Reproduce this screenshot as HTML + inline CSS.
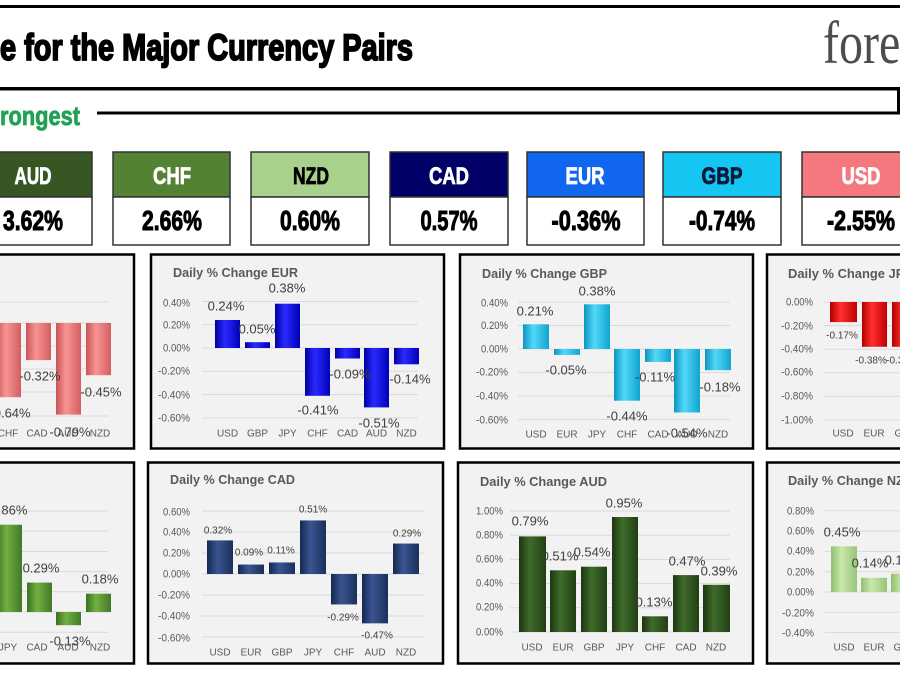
<!DOCTYPE html>
<html><head><meta charset="utf-8">
<style>
html,body{margin:0;padding:0;background:#fff;width:900px;height:676px;overflow:hidden}
svg{display:block}
.t{font-family:"Liberation Sans",sans-serif;font-weight:bold;font-size:13px;fill:#595959}
.y{font-family:"Liberation Sans",sans-serif;font-size:11px;fill:#595959;text-anchor:end}
.x{font-family:"Liberation Sans",sans-serif;font-size:10px;fill:#595959;text-anchor:middle}
.d{font-family:"Liberation Sans",sans-serif;font-size:13px;fill:#404040;text-anchor:middle}
.ds{font-family:"Liberation Sans",sans-serif;font-size:10px;fill:#404040;text-anchor:middle}
.g{stroke:#d9d9d9;stroke-width:1}
.p{fill:#f2f2f2;stroke:#000;stroke-width:2.5}
.bh{font-family:"Liberation Sans",sans-serif;font-weight:bold;font-size:24px;text-anchor:middle}
.bv{font-family:"Liberation Sans",sans-serif;font-weight:bold;font-size:28px;text-anchor:middle;fill:#000;stroke:#000;stroke-width:1}
</style></head>
<body>
<svg width="900" height="676" viewBox="0 0 900 676" xmlns="http://www.w3.org/2000/svg">
<defs>
<linearGradient id="gPink" x1="0" x2="1" y1="0" y2="0"><stop offset="0" stop-color="#c85456"/><stop offset="0.4" stop-color="#f99494"/><stop offset="1" stop-color="#d25e60"/></linearGradient>
<linearGradient id="gBlue" x1="0" x2="1" y1="0" y2="0"><stop offset="0" stop-color="#0000a0"/><stop offset="0.4" stop-color="#2a2aff"/><stop offset="1" stop-color="#0000b8"/></linearGradient>
<linearGradient id="gCyan" x1="0" x2="1" y1="0" y2="0"><stop offset="0" stop-color="#0c94c0"/><stop offset="0.4" stop-color="#52d8f8"/><stop offset="1" stop-color="#10a4d0"/></linearGradient>
<linearGradient id="gRed" x1="0" x2="1" y1="0" y2="0"><stop offset="0" stop-color="#b00000"/><stop offset="0.4" stop-color="#ff3030"/><stop offset="1" stop-color="#c00000"/></linearGradient>
<linearGradient id="gGreen" x1="0" x2="1" y1="0" y2="0"><stop offset="0" stop-color="#3a7020"/><stop offset="0.4" stop-color="#72b042"/><stop offset="1" stop-color="#42782a"/></linearGradient>
<linearGradient id="gNavy" x1="0" x2="1" y1="0" y2="0"><stop offset="0" stop-color="#142850"/><stop offset="0.4" stop-color="#3a5590"/><stop offset="1" stop-color="#1a2f5a"/></linearGradient>
<linearGradient id="gDark" x1="0" x2="1" y1="0" y2="0"><stop offset="0" stop-color="#1c3510"/><stop offset="0.4" stop-color="#3f6c2b"/><stop offset="1" stop-color="#223f14"/></linearGradient>
<linearGradient id="gLight" x1="0" x2="1" y1="0" y2="0"><stop offset="0" stop-color="#8fbf70"/><stop offset="0.4" stop-color="#c8e8aa"/><stop offset="1" stop-color="#98c47a"/></linearGradient>
</defs>

<!-- Header -->
<rect x="0" y="5" width="900" height="3" fill="#000"/>
<rect x="0" y="87" width="900" height="3.5" fill="#000"/>
<rect x="97" y="111.5" width="803" height="3" fill="#000"/>
<rect x="897" y="90" width="3" height="24" fill="#000"/>
<text x="0" y="60" font-family="Liberation Sans" font-weight="bold" font-size="37" textLength="413" lengthAdjust="spacingAndGlyphs" fill="#000" stroke="#000" stroke-width="1.8">e for the Major Currency Pairs</text>
<text transform="translate(823,63) scale(0.8,1)" font-family="Liberation Serif" font-size="60" fill="#4d4d4d">forexlive</text>
<text x="0" y="125" font-family="Liberation Sans" font-weight="bold" font-size="27" textLength="80" lengthAdjust="spacingAndGlyphs" fill="#21a153" stroke="#21a153" stroke-width="0.8">rongest</text>

<!-- Currency boxes -->
<g stroke="#333" stroke-width="1.5">
<rect x="-26" y="152" width="118" height="45" fill="#375623"/><rect x="-26" y="197" width="118" height="48" fill="#fff"/>
<rect x="113" y="152" width="117" height="45" fill="#548235"/><rect x="113" y="197" width="117" height="48" fill="#fff"/>
<rect x="251" y="152" width="118" height="45" fill="#a9d18e"/><rect x="251" y="197" width="118" height="48" fill="#fff"/>
<rect x="390" y="152" width="118" height="45" fill="#000066"/><rect x="390" y="197" width="118" height="48" fill="#fff"/>
<rect x="527" y="152" width="117" height="45" fill="#1166ee"/><rect x="527" y="197" width="117" height="48" fill="#fff"/>
<rect x="663" y="152" width="118" height="45" fill="#16c6f2"/><rect x="663" y="197" width="118" height="48" fill="#fff"/>
<rect x="802" y="152" width="118" height="45" fill="#f4787e"/><rect x="802" y="197" width="118" height="48" fill="#fff"/>
</g>
<text class="bh" x="33" y="184" textLength="37" lengthAdjust="spacingAndGlyphs" fill="#fff" stroke="#fff" stroke-width="0.8">AUD</text>
<text class="bh" x="172" y="184" textLength="38" lengthAdjust="spacingAndGlyphs" fill="#fff" stroke="#fff" stroke-width="0.8">CHF</text>
<text class="bh" x="311" y="184" textLength="36" lengthAdjust="spacingAndGlyphs" fill="#000" stroke="#000" stroke-width="0.8">NZD</text>
<text class="bh" x="449" y="184" textLength="40" lengthAdjust="spacingAndGlyphs" fill="#fff" stroke="#fff" stroke-width="0.8">CAD</text>
<text class="bh" x="585" y="184" textLength="39" lengthAdjust="spacingAndGlyphs" fill="#fff" stroke="#fff" stroke-width="0.8">EUR</text>
<text class="bh" x="722" y="184" textLength="41" lengthAdjust="spacingAndGlyphs" fill="#0a1a3a" stroke="#0a1a3a" stroke-width="0.8">GBP</text>
<text class="bh" x="861" y="184" textLength="39" lengthAdjust="spacingAndGlyphs" fill="#fff" stroke="#fff" stroke-width="0.8">USD</text>
<text class="bv" x="33" y="230" textLength="60" lengthAdjust="spacingAndGlyphs">3.62%</text>
<text class="bv" x="172" y="230" textLength="60" lengthAdjust="spacingAndGlyphs">2.66%</text>
<text class="bv" x="310" y="230" textLength="60" lengthAdjust="spacingAndGlyphs">0.60%</text>
<text class="bv" x="449" y="230" textLength="57" lengthAdjust="spacingAndGlyphs">0.57%</text>
<text class="bv" x="586" y="230" textLength="69" lengthAdjust="spacingAndGlyphs">-0.36%</text>
<text class="bv" x="722" y="230" textLength="66" lengthAdjust="spacingAndGlyphs">-0.74%</text>
<text class="bv" x="861" y="230" textLength="68" lengthAdjust="spacingAndGlyphs">-2.55%</text>

<!-- Panels -->
<rect class="p" x="-10" y="254.5" width="144" height="194"/>
<rect class="p" x="151" y="254.5" width="293" height="194"/>
<rect class="p" x="460" y="254.5" width="293" height="194"/>
<rect class="p" x="767" y="254.5" width="200" height="194"/>
<rect class="p" x="-10" y="462.5" width="144" height="201"/>
<rect class="p" x="148" y="462.5" width="295" height="201"/>
<rect class="p" x="458" y="462.5" width="295" height="201"/>
<rect class="p" x="767" y="462.5" width="200" height="201"/>

<!-- P1 USD -->
<g class="g">
<line x1="-8" x2="108" y1="302" y2="302"/><line x1="-8" x2="108" y1="323" y2="323"/><line x1="-8" x2="108" y1="346" y2="346"/><line x1="-8" x2="108" y1="369" y2="369"/><line x1="-8" x2="108" y1="392" y2="392"/><line x1="-8" x2="108" y1="416" y2="416"/>
</g>
<g fill="url(#gPink)">
<rect x="-4" y="323" width="25" height="74.2"/><rect x="26" y="323" width="25" height="37.1"/><rect x="56" y="323" width="25" height="91.6"/><rect x="86" y="323" width="25" height="52.2"/>
</g>
<text class="x" x="8" y="436.5">CHF</text><text class="x" x="37" y="436.5">CAD</text><text class="x" x="68" y="436.5">AUD</text><text class="x" x="100" y="436.5">NZD</text>
<text class="d" x="10" y="417.5">-0.64%</text><text class="d" x="40" y="380.5">-0.32%</text><text class="d" x="70" y="436.5">-0.79%</text><text class="d" x="101" y="396.5">-0.45%</text>

<!-- P2 EUR -->
<text class="t" x="173" y="277" textLength="125" lengthAdjust="spacingAndGlyphs">Daily % Change EUR</text>
<g class="g">
<line x1="202" x2="418" y1="301.5" y2="301.5"/><line x1="202" x2="418" y1="324.7" y2="324.7"/><line x1="202" x2="418" y1="348" y2="348"/><line x1="202" x2="418" y1="371.3" y2="371.3"/><line x1="202" x2="418" y1="394.6" y2="394.6"/><line x1="202" x2="418" y1="418" y2="418"/>
</g>
<text class="y" x="190" y="306.5" textLength="27" lengthAdjust="spacingAndGlyphs">0.40%</text>
<text class="y" x="190" y="328.5" textLength="27" lengthAdjust="spacingAndGlyphs">0.20%</text>
<text class="y" x="190" y="351.5" textLength="27" lengthAdjust="spacingAndGlyphs">0.00%</text>
<text class="y" x="190" y="374.5" textLength="32" lengthAdjust="spacingAndGlyphs">-0.20%</text>
<text class="y" x="190" y="398.5" textLength="32" lengthAdjust="spacingAndGlyphs">-0.40%</text>
<text class="y" x="190" y="421.5" textLength="32" lengthAdjust="spacingAndGlyphs">-0.60%</text>
<g fill="url(#gBlue)">
<rect x="215" y="320" width="25" height="28"/><rect x="245" y="342.2" width="25" height="5.8"/><rect x="275" y="303.7" width="25" height="44.3"/><rect x="305" y="348" width="25" height="47.8"/><rect x="335" y="348" width="25" height="10.5"/><rect x="364" y="348" width="25" height="59.4"/><rect x="394" y="348" width="25" height="16.3"/>
</g>
<text class="x" x="227.5" y="436.5">USD</text><text class="x" x="257.5" y="436.5">GBP</text><text class="x" x="287.5" y="436.5">JPY</text><text class="x" x="317.5" y="436.5">CHF</text><text class="x" x="347.5" y="436.5">CAD</text><text class="x" x="376.5" y="436.5">AUD</text><text class="x" x="406.5" y="436.5">NZD</text>
<text class="d" x="226" y="310.5">0.24%</text><text class="d" x="257" y="333.5">0.05%</text><text class="d" x="287" y="292.5">0.38%</text><text class="d" x="318" y="414.5">-0.41%</text><text class="d" x="350" y="378.5">-0.09%</text><text class="d" x="379" y="427.5">-0.51%</text><text class="d" x="410" y="383.5">-0.14%</text>

<!-- P3 GBP -->
<text class="t" x="482" y="278" textLength="125" lengthAdjust="spacingAndGlyphs">Daily % Change GBP</text>
<g class="g">
<line x1="518" x2="730" y1="302" y2="302"/><line x1="518" x2="730" y1="325.5" y2="325.5"/><line x1="518" x2="730" y1="349" y2="349"/><line x1="518" x2="730" y1="372.5" y2="372.5"/><line x1="518" x2="730" y1="396" y2="396"/><line x1="518" x2="730" y1="419.5" y2="419.5"/>
</g>
<text class="y" x="508" y="306.5" textLength="27" lengthAdjust="spacingAndGlyphs">0.40%</text>
<text class="y" x="508" y="329" textLength="27" lengthAdjust="spacingAndGlyphs">0.20%</text>
<text class="y" x="508" y="352.5" textLength="27" lengthAdjust="spacingAndGlyphs">0.00%</text>
<text class="y" x="508" y="375.5" textLength="32" lengthAdjust="spacingAndGlyphs">-0.20%</text>
<text class="y" x="508" y="399.5" textLength="32" lengthAdjust="spacingAndGlyphs">-0.40%</text>
<text class="y" x="508" y="423.5" textLength="32" lengthAdjust="spacingAndGlyphs">-0.60%</text>
<g fill="url(#gCyan)">
<rect x="523" y="324.3" width="26" height="24.7"/><rect x="554" y="349" width="26" height="5.9"/><rect x="584" y="304.3" width="26" height="44.7"/><rect x="614" y="349" width="26" height="51.7"/><rect x="645" y="349" width="26" height="12.9"/><rect x="674" y="349" width="26" height="63.5"/><rect x="705" y="349" width="26" height="21.2"/>
</g>
<text class="x" x="536" y="437.5">USD</text><text class="x" x="567" y="437.5">EUR</text><text class="x" x="597" y="437.5">JPY</text><text class="x" x="627" y="437.5">CHF</text><text class="x" x="658" y="437.5">CAD</text><text class="x" x="687" y="437.5">AUD</text><text class="x" x="718" y="437.5">NZD</text>
<text class="d" x="535" y="315.5">0.21%</text><text class="d" x="566" y="374.5">-0.05%</text><text class="d" x="597" y="295.5">0.38%</text><text class="d" x="627" y="420.5">-0.44%</text><text class="d" x="655" y="381.5">-0.11%</text><text class="d" x="687" y="437.5">-0.54%</text><text class="d" x="720" y="391.5">-0.18%</text>

<!-- P4 JPY -->
<text class="t" x="788" y="278" textLength="125" lengthAdjust="spacingAndGlyphs">Daily % Change JPY</text>
<g class="g">
<line x1="823" x2="900" y1="302" y2="302"/><line x1="823" x2="900" y1="325.6" y2="325.6"/><line x1="823" x2="900" y1="349.2" y2="349.2"/><line x1="823" x2="900" y1="372.8" y2="372.8"/><line x1="823" x2="900" y1="396.4" y2="396.4"/><line x1="823" x2="900" y1="420" y2="420"/>
</g>
<text class="y" x="813" y="305.5" textLength="27" lengthAdjust="spacingAndGlyphs">0.00%</text>
<text class="y" x="813" y="329.5" textLength="32" lengthAdjust="spacingAndGlyphs">-0.20%</text>
<text class="y" x="813" y="352.5" textLength="32" lengthAdjust="spacingAndGlyphs">-0.40%</text>
<text class="y" x="813" y="375.5" textLength="32" lengthAdjust="spacingAndGlyphs">-0.60%</text>
<text class="y" x="813" y="399.5" textLength="32" lengthAdjust="spacingAndGlyphs">-0.80%</text>
<text class="y" x="813" y="423.5" textLength="32" lengthAdjust="spacingAndGlyphs">-1.00%</text>
<g fill="url(#gRed)">
<rect x="830" y="302" width="27" height="20.1"/><rect x="862" y="302" width="25" height="44.8"/><rect x="892" y="302" width="26" height="44.8"/>
</g>
<text class="x" x="843" y="436.5">USD</text><text class="x" x="874" y="436.5">EUR</text><text class="x" x="905" y="436.5">GBP</text>
<text class="ds" x="842" y="338.5">-0.17%</text><text class="ds" x="871" y="363.5">-0.38%</text><text class="ds" x="902" y="363.5">-0.38%</text>

<!-- P5 CHF -->
<g class="g">
<line x1="-8" x2="108" y1="511" y2="511"/><line x1="-8" x2="108" y1="531" y2="531"/><line x1="-8" x2="108" y1="551.5" y2="551.5"/><line x1="-8" x2="108" y1="571.6" y2="571.6"/><line x1="-8" x2="108" y1="591.8" y2="591.8"/><line x1="-8" x2="108" y1="612" y2="612"/><line x1="-8" x2="108" y1="632.3" y2="632.3"/>
</g>
<g fill="url(#gGreen)">
<rect x="-4" y="524.7" width="26" height="87.3"/><rect x="27" y="582.6" width="25" height="29.4"/><rect x="56" y="612" width="25" height="13.2"/><rect x="86" y="593.7" width="25" height="18.3"/>
</g>
<text class="x" x="8" y="650.5">JPY</text><text class="x" x="37" y="650.5">CAD</text><text class="x" x="68" y="650.5">AUD</text><text class="x" x="100" y="650.5">NZD</text>
<text class="d" x="9" y="514.5">0.86%</text><text class="d" x="41" y="572.5">0.29%</text><text class="d" x="100" y="583.5">0.18%</text><text class="d" x="70" y="645.5">-0.13%</text>

<!-- P6 CAD -->
<text class="t" x="170" y="484" textLength="125" lengthAdjust="spacingAndGlyphs">Daily % Change CAD</text>
<g class="g">
<line x1="202" x2="425" y1="511" y2="511"/><line x1="202" x2="425" y1="532" y2="532"/><line x1="202" x2="425" y1="553" y2="553"/><line x1="202" x2="425" y1="574" y2="574"/><line x1="202" x2="425" y1="595" y2="595"/><line x1="202" x2="425" y1="616" y2="616"/><line x1="202" x2="425" y1="637" y2="637"/>
</g>
<text class="y" x="190" y="515.5" textLength="27" lengthAdjust="spacingAndGlyphs">0.60%</text>
<text class="y" x="190" y="535.5" textLength="27" lengthAdjust="spacingAndGlyphs">0.40%</text>
<text class="y" x="190" y="556.5" textLength="27" lengthAdjust="spacingAndGlyphs">0.20%</text>
<text class="y" x="190" y="577.5" textLength="27" lengthAdjust="spacingAndGlyphs">0.00%</text>
<text class="y" x="190" y="598.5" textLength="32" lengthAdjust="spacingAndGlyphs">-0.20%</text>
<text class="y" x="190" y="619.5" textLength="32" lengthAdjust="spacingAndGlyphs">-0.40%</text>
<text class="y" x="190" y="641.5" textLength="32" lengthAdjust="spacingAndGlyphs">-0.60%</text>
<g fill="url(#gNavy)">
<rect x="207" y="540.4" width="26" height="33.6"/><rect x="238" y="564.55" width="26" height="9.45"/><rect x="269" y="562.45" width="26" height="11.55"/><rect x="300" y="520.45" width="26" height="53.55"/><rect x="331" y="574" width="26" height="30.45"/><rect x="362" y="574" width="26" height="49.35"/><rect x="393" y="543.55" width="26" height="30.45"/>
</g>
<text class="x" x="220" y="655.5">USD</text><text class="x" x="251" y="655.5">EUR</text><text class="x" x="282" y="655.5">GBP</text><text class="x" x="313" y="655.5">JPY</text><text class="x" x="344" y="655.5">CHF</text><text class="x" x="375" y="655.5">AUD</text><text class="x" x="406" y="655.5">NZD</text>
<text class="ds" x="218" y="533.5">0.32%</text><text class="ds" x="249" y="555.5">0.09%</text><text class="ds" x="281" y="553.5">0.11%</text><text class="ds" x="313" y="512.5">0.51%</text><text class="ds" x="343" y="620.5">-0.29%</text><text class="ds" x="377" y="638.5">-0.47%</text><text class="ds" x="407" y="536.5">0.29%</text>

<!-- P7 AUD -->
<text class="t" x="480" y="486" textLength="127" lengthAdjust="spacingAndGlyphs">Daily % Change AUD</text>
<g class="g">
<line x1="510" x2="730" y1="511" y2="511"/><line x1="510" x2="730" y1="535.2" y2="535.2"/><line x1="510" x2="730" y1="559.4" y2="559.4"/><line x1="510" x2="730" y1="583.6" y2="583.6"/><line x1="510" x2="730" y1="607.8" y2="607.8"/><line x1="510" x2="730" y1="632" y2="632"/>
</g>
<text class="y" x="503" y="514.5" textLength="27" lengthAdjust="spacingAndGlyphs">1.00%</text>
<text class="y" x="503" y="538.5" textLength="27" lengthAdjust="spacingAndGlyphs">0.80%</text>
<text class="y" x="503" y="562.5" textLength="27" lengthAdjust="spacingAndGlyphs">0.60%</text>
<text class="y" x="503" y="586.5" textLength="27" lengthAdjust="spacingAndGlyphs">0.40%</text>
<text class="y" x="503" y="610.5" textLength="27" lengthAdjust="spacingAndGlyphs">0.20%</text>
<text class="y" x="503" y="635.5" textLength="27" lengthAdjust="spacingAndGlyphs">0.00%</text>
<g fill="url(#gDark)">
<rect x="519" y="536.4" width="27" height="95.6"/><rect x="550" y="570.3" width="26" height="61.7"/><rect x="581" y="566.7" width="26" height="65.3"/><rect x="612" y="517" width="26" height="115"/><rect x="642" y="616.3" width="26" height="15.7"/><rect x="673" y="575.1" width="26" height="56.9"/><rect x="703" y="584.8" width="27" height="47.2"/>
</g>
<text class="x" x="532" y="650.5">USD</text><text class="x" x="563" y="650.5">EUR</text><text class="x" x="594" y="650.5">GBP</text><text class="x" x="625" y="650.5">JPY</text><text class="x" x="655" y="650.5">CHF</text><text class="x" x="686" y="650.5">CAD</text><text class="x" x="716" y="650.5">NZD</text>
<text class="d" x="530" y="525.5">0.79%</text><text class="d" x="560" y="560.5">0.51%</text><text class="d" x="592" y="556.5">0.54%</text><text class="d" x="624" y="507.5">0.95%</text><text class="d" x="654" y="606.5">0.13%</text><text class="d" x="687" y="565.5">0.47%</text><text class="d" x="719" y="575.5">0.39%</text>

<!-- P8 NZD -->
<text class="t" x="788" y="485" textLength="125" lengthAdjust="spacingAndGlyphs">Daily % Change NZD</text>
<g class="g">
<line x1="825" x2="900" y1="510.8" y2="510.8"/><line x1="825" x2="900" y1="531.1" y2="531.1"/><line x1="825" x2="900" y1="551.4" y2="551.4"/><line x1="825" x2="900" y1="571.7" y2="571.7"/><line x1="825" x2="900" y1="592" y2="592"/><line x1="825" x2="900" y1="612.3" y2="612.3"/><line x1="825" x2="900" y1="632.6" y2="632.6"/>
</g>
<text class="y" x="814" y="514.5" textLength="27" lengthAdjust="spacingAndGlyphs">0.80%</text>
<text class="y" x="814" y="534.5" textLength="27" lengthAdjust="spacingAndGlyphs">0.60%</text>
<text class="y" x="814" y="554.5" textLength="27" lengthAdjust="spacingAndGlyphs">0.40%</text>
<text class="y" x="814" y="575.5" textLength="27" lengthAdjust="spacingAndGlyphs">0.20%</text>
<text class="y" x="814" y="595.5" textLength="27" lengthAdjust="spacingAndGlyphs">0.00%</text>
<text class="y" x="814" y="616.5" textLength="32" lengthAdjust="spacingAndGlyphs">-0.20%</text>
<text class="y" x="814" y="636.5" textLength="32" lengthAdjust="spacingAndGlyphs">-0.40%</text>
<g fill="url(#gLight)">
<rect x="831" y="546.3" width="26" height="45.7"/><rect x="861" y="577.8" width="26" height="14.2"/><rect x="891" y="573.7" width="26" height="18.3"/>
</g>
<text class="x" x="844" y="650.5">USD</text><text class="x" x="874" y="650.5">EUR</text><text class="x" x="904" y="650.5">GBP</text>
<text class="d" x="842" y="536.5">0.45%</text><text class="d" x="870" y="567.5">0.14%</text><text class="d" x="903" y="564.5">0.18%</text>
</svg>
</body></html>
